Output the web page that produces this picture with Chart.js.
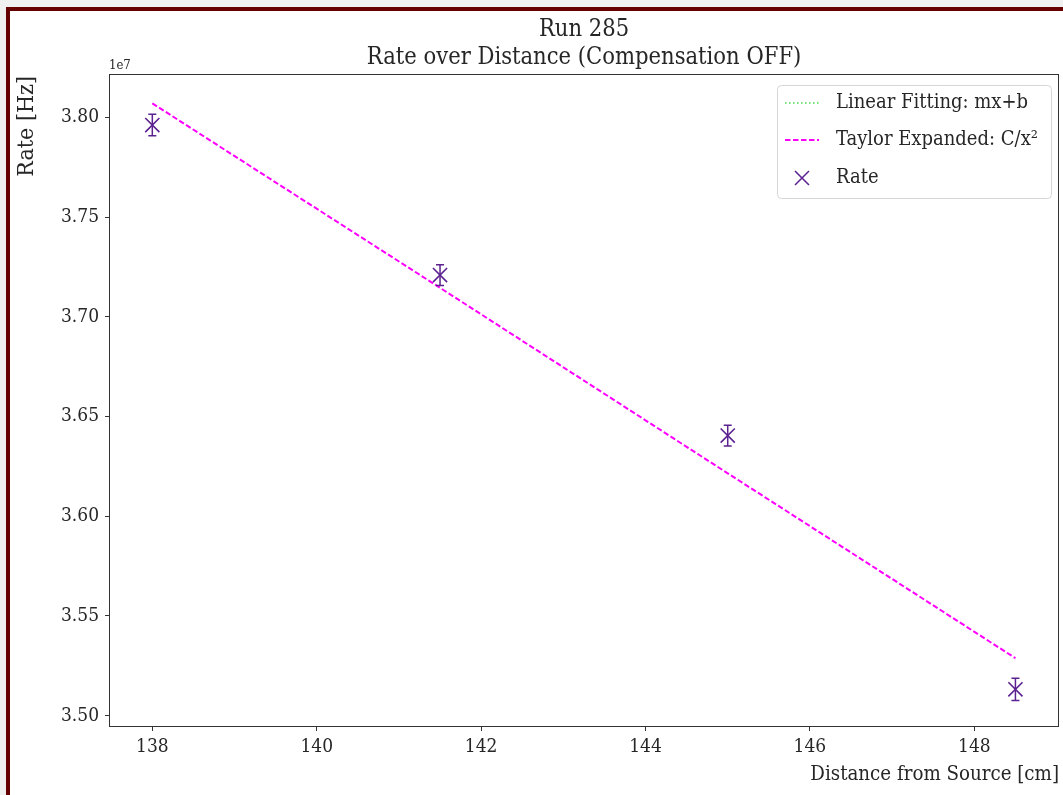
<!DOCTYPE html>
<html>
<head>
<meta charset="utf-8">
<script src="https://cdn.jsdelivr.net/npm/chart.js@4.4.1/dist/chart.umd.min.js"></script>
<style>
    html, body { margin: 0; padding: 0; background: #f0f0f0; overflow: hidden; }
    #frame {
        position: absolute; left: 6px; top: 7px; width: 1120px; height: 850px;
        background: #fff; border-left: 4px solid #660000; border-top: 4px solid #660000;
    }
    #rateChart { position: absolute; left: 0; top: 0; }
</style>
</head>
<body>
<div id="frame"></div>
<canvas id="rateChart" width="1063" height="795"></canvas>
<script>
// data
const distances = [138, 141.5, 145, 148.5];
const rates = [37961000, 37209000, 36404000, 35132000];
const rateErrors = [54000, 52000, 52000, 56000];
const fitDistances = [138, 141.5, 145, 148.5];
const taylorFit = [38070000, 37145000, 36215000, 35288000];
const linearFit = [];
const xTicks = [138, 140, 142, 144, 146, 148];
const yTicks = [35000000, 35500000, 36000000, 36500000, 37000000, 37500000, 38000000];

const serif = "'DejaVu Serif Condensed', 'DejaVu Serif', serif";
const textColor = "#262626";
const purple = "#5b2190";

const decorPlugin = {
    id: "decor",
    afterDatasetsDraw(chart) {
        const { ctx, scales: { x, y } } = chart;
        ctx.save();
        ctx.strokeStyle = purple;
        ctx.lineWidth = 1.5;
        distances.forEach((d, i) => {
            const px = x.getPixelForValue(d);
            const top = y.getPixelForValue(rates[i] + rateErrors[i]);
            const bot = y.getPixelForValue(rates[i] - rateErrors[i]);
            ctx.beginPath();
            ctx.moveTo(px, top); ctx.lineTo(px, bot);
            ctx.moveTo(px - 4, top); ctx.lineTo(px + 4, top);
            ctx.moveTo(px - 4, bot); ctx.lineTo(px + 4, bot);
            ctx.stroke();
        });
        ctx.restore();
    },
    afterDraw(chart) {
        const { ctx, chartArea: a } = chart;
        ctx.save();

        // spines
        ctx.strokeStyle = "#333";
        ctx.lineWidth = 1;
        ctx.strokeRect(a.left + 0.5, a.top + 0.5, a.right - a.left - 1, a.bottom - a.top - 1);

        // titles
        ctx.fillStyle = textColor;
        ctx.textBaseline = "middle";
        ctx.textAlign = "center";
        ctx.font = "23.5px " + serif;
        const cx = (a.left + a.right) / 2;
        ctx.fillText("Run 285", cx, 30);
        ctx.fillText("Rate over Distance (Compensation OFF)", cx, 58);

        // axis labels
        ctx.font = "20.3px " + serif;
        ctx.textAlign = "right";
        ctx.fillText("Distance from Source [cm]", a.right, 775);
        ctx.save();
        ctx.font = "23px " + serif;
        ctx.translate(27, a.top + 2);
        ctx.rotate(-Math.PI / 2);
        ctx.fillText("Rate [Hz]", 0, 0);
        ctx.restore();

        // offset text
        ctx.font = "13px " + serif;
        ctx.textAlign = "left";
        ctx.textBaseline = "alphabetic";
        ctx.fillText("1e7", a.left, a.top - 5);

        // legend
        const lx = 777, ly = 85, lw = 274, lh = 113;
        ctx.beginPath();
        ctx.roundRect(lx + 0.5, ly + 0.5, lw, lh, 4);
        ctx.fillStyle = "rgba(255,255,255,0.8)";
        ctx.fill();
        ctx.strokeStyle = "#d6d6d6";
        ctx.stroke();

        const rows = [103, 140, 178];
        const items = chart.data.datasets;
        ctx.font = "20px " + serif;
        ctx.textBaseline = "middle";
        items.forEach((ds, i) => {
            const ry = rows[i];
            ctx.save();
            if (ds.showLine) {
                ctx.strokeStyle = ds.borderColor;
                ctx.lineWidth = ds.borderWidth;
                ctx.setLineDash(ds.borderDash || []);
                ctx.beginPath();
                ctx.moveTo(785, ry); ctx.lineTo(819, ry);
                ctx.stroke();
            } else {
                ctx.strokeStyle = ds.borderColor;
                ctx.lineWidth = 1.5;
                ctx.beginPath();
                ctx.moveTo(795, ry - 7); ctx.lineTo(809, ry + 7);
                ctx.moveTo(809, ry - 7); ctx.lineTo(795, ry + 7);
                ctx.stroke();
            }
            ctx.restore();
            ctx.fillStyle = textColor;
            ctx.fillText(ds.label, 836, ry);
        });
        ctx.restore();
    }
};

new Chart(document.getElementById("rateChart"), {
    type: "scatter",
    data: {
        datasets: [
            {
                label: "Linear Fitting: mx+b",
                data: linearFit.map((v, i) => ({ x: fitDistances[i], y: v })),
                showLine: true,
                borderColor: "#44dd44",
                borderWidth: 1.5,
                borderDash: [1.5, 2.5],
                pointRadius: 0
            },
            {
                label: "Taylor Expanded: C/x\u00b2",
                data: taylorFit.map((v, i) => ({ x: fitDistances[i], y: v })),
                showLine: true,
                borderColor: "#ff00ff",
                borderWidth: 2,
                borderDash: [5.5, 2.5],
                pointRadius: 0
            },
            {
                label: "Rate",
                data: rates.map((v, i) => ({ x: distances[i], y: v })),
                showLine: false,
                borderColor: purple,
                backgroundColor: purple,
                pointStyle: "crossRot",
                pointRadius: 10,
                pointBorderWidth: 1.6
            }
        ]
    },
    options: {
        responsive: false,
        animation: false,
        devicePixelRatio: 1,
        layout: { autoPadding: false, padding: { top: 74, right: 4, left: 0, bottom: 0 } },
        plugins: { legend: { display: false }, title: { display: false }, tooltip: { enabled: false } },
        scales: {
            x: {
                type: "linear",
                min: 137.473,
                max: 149.03,
                afterFit: s => { s.height = 68; s.paddingLeft = 0; s.paddingRight = 0; },
                afterBuildTicks: s => { s.ticks = xTicks.map(v => ({ value: v })); },
                border: { display: false },
                grid: { drawOnChartArea: false, drawTicks: true, tickLength: 4, color: "#333" },
                ticks: { color: textColor, padding: 5, font: { family: serif, size: 19 } }
            },
            y: {
                type: "linear",
                min: 34943000,
                max: 38217000,
                afterFit: s => { s.width = 109; s.paddingTop = 0; s.paddingBottom = 0; },
                afterBuildTicks: s => { s.ticks = yTicks.map(v => ({ value: v })); },
                border: { display: false },
                grid: { drawOnChartArea: false, drawTicks: true, tickLength: 4, color: "#333" },
                ticks: {
                    color: textColor, padding: 6, font: { family: serif, size: 19 },
                    callback: v => (v / 1e7).toFixed(2)
                }
            }
        }
    },
    plugins: [decorPlugin]
});
</script>
</body>
</html>
